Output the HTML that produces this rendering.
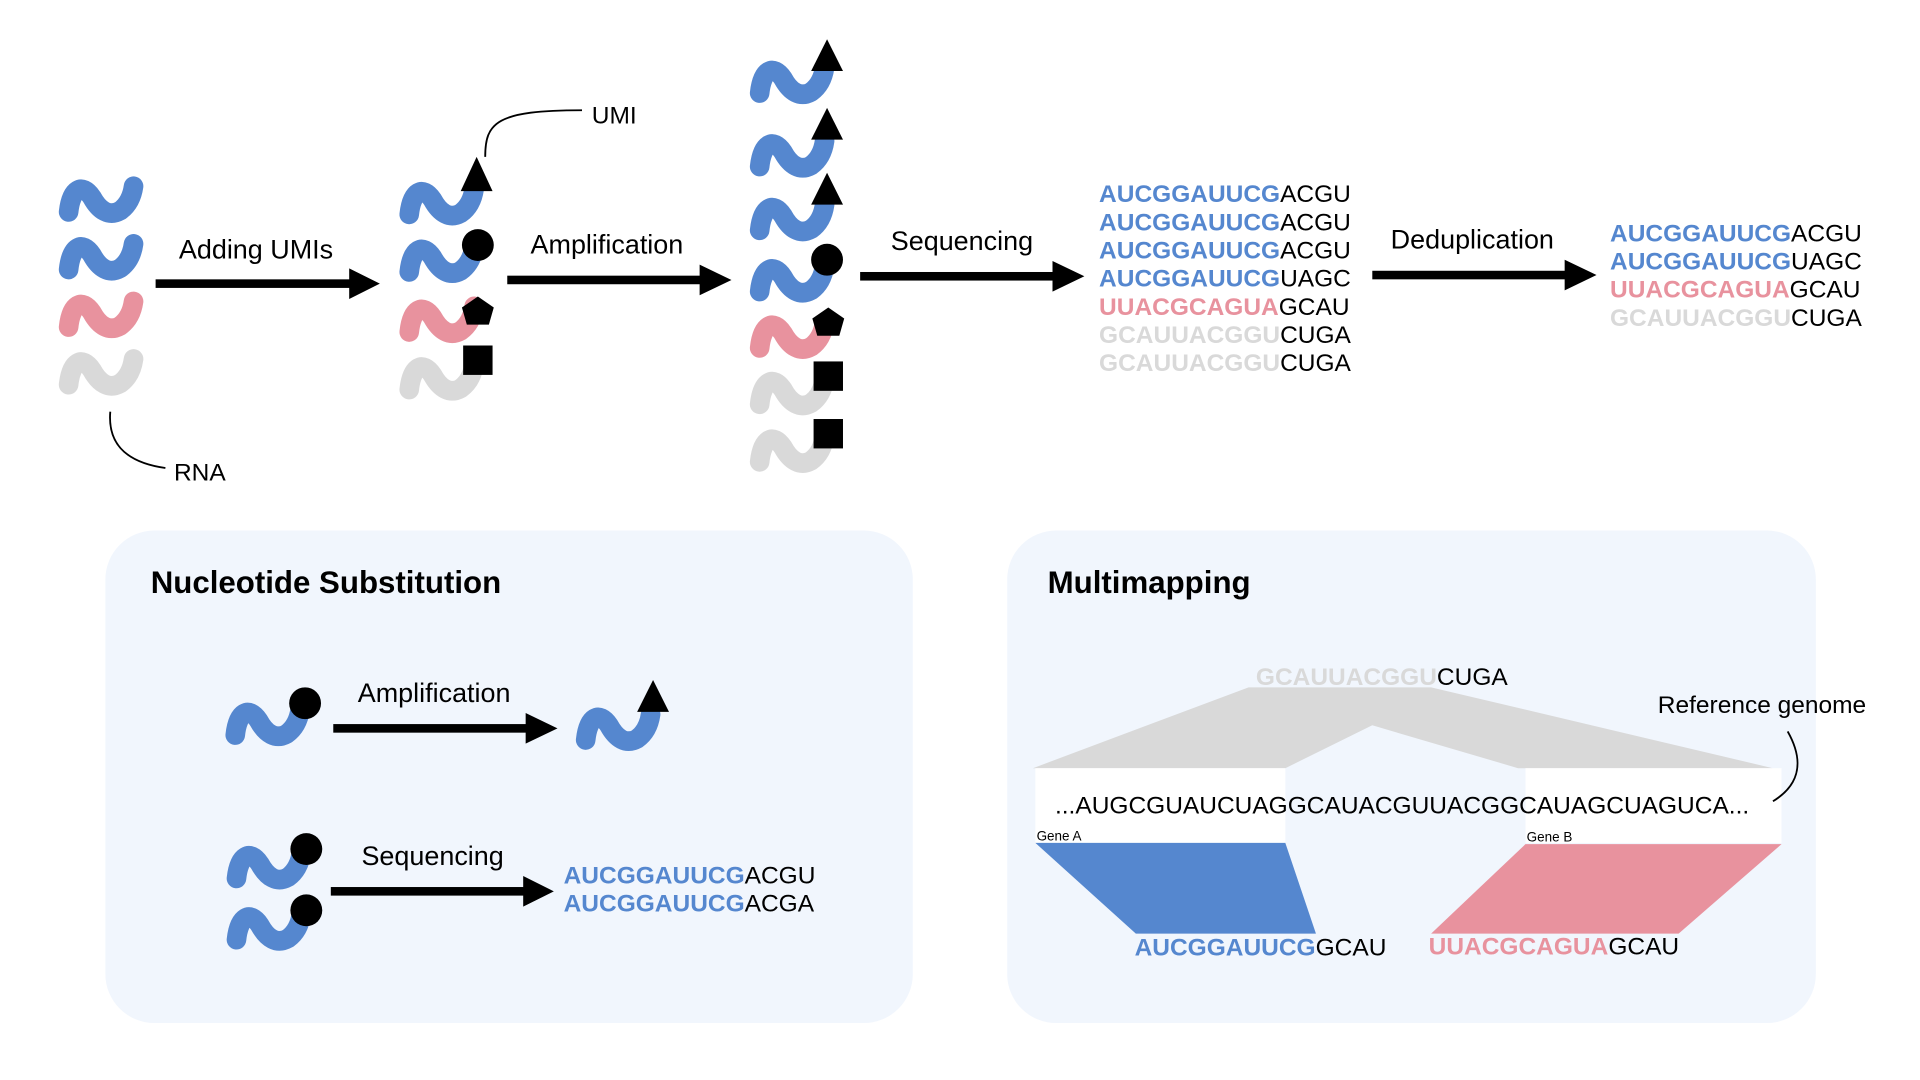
<!DOCTYPE html>
<html><head><meta charset="utf-8"><style>
html,body{margin:0;padding:0;background:#fff;}
svg{display:block;}
text{font-family:"Liberation Sans",Arial,sans-serif;}
.b{font-weight:bold;}
</style></head><body>
<svg width="1920" height="1080" viewBox="0 0 1567 881.5" preserveAspectRatio="none" xmlns="http://www.w3.org/2000/svg">
<defs>
<path id="w" d="M8,28 C10,9 19,4 27,16 C33,27 41,32 50,27 C57,22 60,14 61,7" fill="none" stroke-width="16" stroke-linecap="round"/>
</defs>
<rect width="1567" height="881.5" fill="#fff"/>

<use href="#w" x="48" y="145" stroke="#5587cf"/>
<use href="#w" x="48" y="192" stroke="#5587cf"/>
<use href="#w" x="48" y="239" stroke="#e8929e"/>
<use href="#w" x="48" y="286" stroke="#d9d9d9"/>
<path d="M90,336 C88,360 100,377 135,382" fill="none" stroke="#000" stroke-width="1.5"/>
<text x="142" y="392" font-size="20">RNA</text>

<rect x="127" y="228" width="160" height="7"/><polygon points="285,219 310,231.5 285,244"/>
<text x="146" y="211" font-size="22">Adding UMIs</text>

<use href="#w" x="326" y="147" stroke="#5587cf"/>
<use href="#w" x="326" y="194" stroke="#5587cf"/>
<use href="#w" x="326" y="243" stroke="#e8929e"/>
<use href="#w" x="326" y="290" stroke="#d9d9d9"/>
<polygon points="389,128 376,156 402,156"/>
<circle cx="390" cy="200" r="13"/>
<polygon points="390,242 403,251 399,265 381,265 377,251"/>
<rect x="378" y="282" width="24" height="24"/>
<path d="M396,128 C396,100 405,90 475,90" fill="none" stroke="#000" stroke-width="1.5"/>
<text x="483" y="101" font-size="20">UMI</text>

<rect x="414" y="225" width="160" height="7"/><polygon points="571,216 597,228.5 571,241"/>
<text x="433" y="207" font-size="22">Amplification</text>

<use href="#w" x="612" y="48" stroke="#5587cf"/>
<use href="#w" x="612" y="108" stroke="#5587cf"/>
<use href="#w" x="612" y="160" stroke="#5587cf"/>
<use href="#w" x="612" y="210" stroke="#5587cf"/>
<use href="#w" x="612" y="256" stroke="#e8929e"/>
<use href="#w" x="612" y="302" stroke="#d9d9d9"/>
<use href="#w" x="612" y="349" stroke="#d9d9d9"/>
<polygon points="675,32 662,58 688,58"/>
<polygon points="675,88 662,114 688,114"/>
<polygon points="675,141 662,167 688,167"/>
<circle cx="675" cy="212" r="13"/>
<polygon points="676,251 689,260 685,274 667,274 663,260"/>
<rect x="664" y="295" width="24" height="24"/>
<rect x="664" y="342" width="24" height="24"/>

<rect x="702" y="222" width="160" height="7"/><polygon points="859,213 885,225.5 859,238"/>
<text x="727" y="204" font-size="22">Sequencing</text>

<g font-size="20">
<text x="897" y="165"><tspan class="b" fill="#5587cf">AUCGGAUUCG</tspan>ACGU</text>
<text x="897" y="188"><tspan class="b" fill="#5587cf">AUCGGAUUCG</tspan>ACGU</text>
<text x="897" y="211"><tspan class="b" fill="#5587cf">AUCGGAUUCG</tspan>ACGU</text>
<text x="897" y="234"><tspan class="b" fill="#5587cf">AUCGGAUUCG</tspan>UAGC</text>
<text x="897" y="257"><tspan class="b" fill="#e8929e">UUACGCAGUA</tspan>GCAU</text>
<text x="897" y="280"><tspan class="b" fill="#d9d9d9">GCAUUACGGU</tspan>CUGA</text>
<text x="897" y="303"><tspan class="b" fill="#d9d9d9">GCAUUACGGU</tspan>CUGA</text>
</g>

<rect x="1120" y="221" width="160" height="7"/><polygon points="1277,212 1303,224.5 1277,237"/>
<text x="1135" y="203" font-size="22">Deduplication</text>

<g font-size="20">
<text x="1314" y="197"><tspan class="b" fill="#5587cf">AUCGGAUUCG</tspan>ACGU</text>
<text x="1314" y="220"><tspan class="b" fill="#5587cf">AUCGGAUUCG</tspan>UAGC</text>
<text x="1314" y="243"><tspan class="b" fill="#e8929e">UUACGCAGUA</tspan>GCAU</text>
<text x="1314" y="266"><tspan class="b" fill="#d9d9d9">GCAUUACGGU</tspan>CUGA</text>
</g>

<rect x="86" y="433" width="659" height="402" rx="40" fill="#f1f6fd"/>
<rect x="822" y="433" width="660" height="402" rx="40" fill="#f1f6fd"/>

<text x="123" y="484" font-size="25.5" class="b">Nucleotide Substitution</text>
<text x="855" y="484" font-size="25.5" class="b">Multimapping</text>

<use href="#w" x="184" y="572" stroke="#5587cf"/>
<circle cx="249" cy="574" r="13"/>
<rect x="272" y="591" width="160" height="7"/><polygon points="429,582 455,594.5 429,607"/>
<text x="292" y="573" font-size="22">Amplification</text>
<use href="#w" x="470" y="576" stroke="#5587cf"/>
<polygon points="533,555 520,581 546,581"/>

<use href="#w" x="185" y="689" stroke="#5587cf"/>
<circle cx="250" cy="693" r="13"/>
<use href="#w" x="185" y="739" stroke="#5587cf"/>
<circle cx="250" cy="743" r="13"/>
<rect x="270" y="724" width="160" height="7"/><polygon points="427,715 452,727.5 427,740"/>
<text x="295" y="706" font-size="22">Sequencing</text>
<g font-size="20">
<text x="460" y="721"><tspan class="b" fill="#5587cf">AUCGGAUUCG</tspan>ACGU</text>
<text x="460" y="744"><tspan class="b" fill="#5587cf">AUCGGAUUCG</tspan>ACGA</text>
</g>

<polygon points="1019,561 1168,561 1447,627 1239,627 1120,592 1049,627 843,627" fill="#d9d9d9"/>
<text x="1025" y="559" font-size="20"><tspan class="b" fill="#d9d9d9">GCAUUACGGU</tspan>CUGA</text>
<rect x="845" y="627" width="204" height="61" fill="#fff"/>
<rect x="1245" y="627" width="209" height="61" fill="#fff"/>
<text x="861" y="664" font-size="20">...AUGCGUAUCUAGGCAUACGUUACGGCAUAGCUAGUCA...</text>
<text x="846" y="686" font-size="11">Gene A</text>
<text x="1246" y="687" font-size="11">Gene B</text>
<polygon points="845,688 1049,688 1074,762 927,762" fill="#5587cf"/>
<polygon points="1245,689 1454,689 1370,762 1168,762" fill="#e8929e"/>
<text x="926" y="780" font-size="20"><tspan class="b" fill="#5587cf">AUCGGAUUCG</tspan>GCAU</text>
<text x="1166" y="779" font-size="20"><tspan class="b" fill="#e8929e">UUACGCAGUA</tspan>GCAU</text>
<text x="1353" y="582" font-size="20">Reference genome</text>
<path d="M1459,597 C1472,620 1470,640 1447,654" fill="none" stroke="#000" stroke-width="1.5"/>
</svg>
</body></html>
